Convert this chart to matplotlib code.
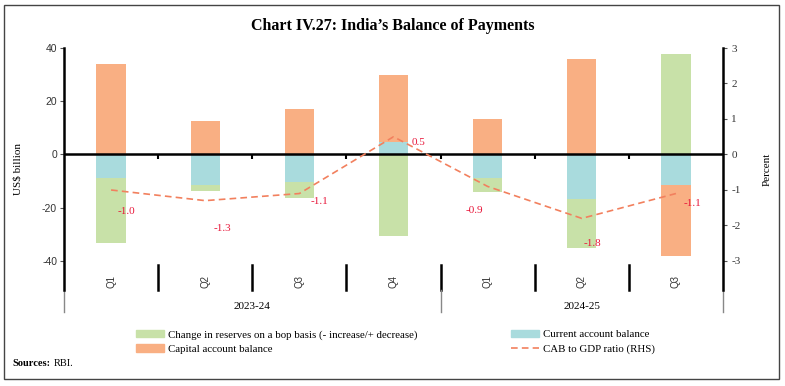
import matplotlib
matplotlib.use('Agg')
import matplotlib.pyplot as plt
from matplotlib.patches import Patch, Rectangle
from matplotlib.lines import Line2D
import numpy as np

# data (US$ billion, percent of GDP)
quarters = ["Q1", "Q2", "Q3", "Q4", "Q1", "Q2", "Q3"]
years = ["2023-24", "2024-25"]
reserves = [-24.4, -2.6, -6.1, -30.8, -5.2, -18.6, 37.7]
cab = [-8.9, -11.3, -10.4, 4.6, -9.0, -16.7, -11.5]
capital = [33.9, 12.5, 17.0, 25.2, 13.2, 35.7, -26.6]
cab_gdp = [-1.0, -1.3, -1.1, 0.5, -0.9, -1.8, -1.1]

# label offsets in pixels (dx, dy)
label_off = [(15, -22), (17, -28), (20, -8), (25, -6), (-13, -24), (11, -25), (17, -10)]

GREEN = "#C8E1A8"
CYAN = "#A9DBDD"
ORANGE = "#F9AF83"
LINE = "#F2805E"
RED = "#E8173A"
SERIF = "Liberation Serif"
SANS = "Liberation Sans"

W, H = 785, 386
fig = plt.figure(figsize=(W / 100, H / 100), dpi=100)

def fx(px):
    return px / W

def fy(py):
    return 1 - py / H

ax = fig.add_axes([fx(64), fy(290), fx(723) - fx(64), fy(48) - fy(290)])
ax2 = ax.twinx()

x = np.arange(len(quarters))
width = 0.31

# stacking order as in the source: CAB next to zero, then reserves, then capital
pos_bottom = np.zeros(len(x))
neg_bottom = np.zeros(len(x))
for vals, col in [(cab, CYAN), (reserves, GREEN), (capital, ORANGE)]:
    v = np.array(vals)
    bottom = np.where(v >= 0, pos_bottom, neg_bottom)
    ax.bar(x, v, width, bottom=bottom, color=col, zorder=2)
    pos_bottom = pos_bottom + np.where(v >= 0, v, 0)
    neg_bottom = neg_bottom + np.where(v < 0, v, 0)

ax.set_xlim(-0.5, len(x) - 0.5)
ax.set_ylim(-50.9, 40)
ax.set_yticks([-40, -20, 0, 20, 40])
ax.set_yticklabels(["-40", "-20", "0", "20", "40"], fontsize=7.5, family=SANS, color="#333333")
ax.set_xticks([])
ax.axhline(0, color="black", lw=1.8, zorder=3)
ax.vlines(x[:-1] + 0.5, -1.6, 0, color="black", lw=1.5, zorder=3)

for side in ["top", "bottom", "right"]:
    ax.spines[side].set_visible(False)
ax.spines["left"].set_linewidth(1.8)
ax.tick_params(axis="y", length=3, width=0.8, pad=2, color="#555555")
ax.set_ylabel("US$ billion", fontsize=8, family=SERIF, labelpad=14)

ax2.plot(x, cab_gdp, color=LINE, lw=1.2, dashes=(4, 2.5), zorder=4)
ax2.set_ylim(-50.9 * 3 / 40, 3)
ax2.set_yticks([-3, -2, -1, 0, 1, 2, 3])
ax2.set_yticklabels(["-3", "-2", "-1", "0", "1", "2", "3"], fontsize=8, family=SERIF, color="#333333")
for side in ["top", "bottom", "left"]:
    ax2.spines[side].set_visible(False)
ax2.spines["right"].set_linewidth(1.8)
ax2.tick_params(axis="y", length=3, width=0.8, pad=3, color="#555555")
ax2.set_ylabel("Percent", fontsize=8, family=SERIF, labelpad=16)

for xi, v, (dx, dy) in zip(x, cab_gdp, label_off):
    ax2.annotate(f"{v:.1f}", (xi, v), xytext=(dx, dy), textcoords="offset pixels",
                 ha="center", va="center", fontsize=8, family=SERIF, color=RED)

# category axis below the plot
tr = ax.get_xaxis_transform()
for xi, q in zip(x, quarters):
    ax.text(xi, 0.037, q, transform=tr, rotation=90, ha="center", va="center",
            fontsize=7, family=SANS, color="#333333")
for b in x[:-1] + 0.5:
    ax.plot([b, b], [0.0, 0.103], transform=tr, color="black", lw=1.8, clip_on=False)
for b in [-0.5, 3.5, 6.5]:
    ax.plot([b, b], [-0.091, 0.0], transform=tr, color="#888888", lw=1.0, clip_on=False)
ax.text(1.5, -0.07, years[0], transform=tr, ha="center", va="center", fontsize=8, family=SERIF)
ax.text(5.0, -0.07, years[1], transform=tr, ha="center", va="center", fontsize=8, family=SERIF)

# title and frame
fig.text(0.5, fy(26), "Chart IV.27: India\u2019s Balance of Payments", ha="center", va="center",
         fontsize=11.5, fontweight="bold", family=SERIF)
fig.patches.append(Rectangle((fx(4), fy(379)), fx(779) - fx(4), fy(5) - fy(379),
                             transform=fig.transFigure, fill=False, edgecolor="#444444", lw=1.0))

handles = [
    Patch(color=GREEN, label="Change in reserves on a bop basis (- increase/+ decrease)"),
    Patch(color=ORANGE, label="Capital account balance"),
    Patch(color=CYAN, label="Current account balance"),
    Line2D([], [], color=LINE, lw=1.2, dashes=(4, 2.5), label="CAB to GDP ratio (RHS)"),
]
fig.legend(handles=handles, ncol=2, loc="upper left", bbox_to_anchor=(fx(126), fy(320)),
           frameon=False, prop={"family": SERIF, "size": 7.8}, handlelength=2.6, handleheight=0.7,
           columnspacing=8.6, labelspacing=0.45, handletextpad=0.4)

fig.text(fx(12), fy(364), "Sources:", fontsize=7.5, fontweight="bold", family=SERIF, va="center")
fig.text(fx(54), fy(364), "RBI.", fontsize=7.5, family=SERIF, va="center")

fig.savefig("out.png", dpi=100)
